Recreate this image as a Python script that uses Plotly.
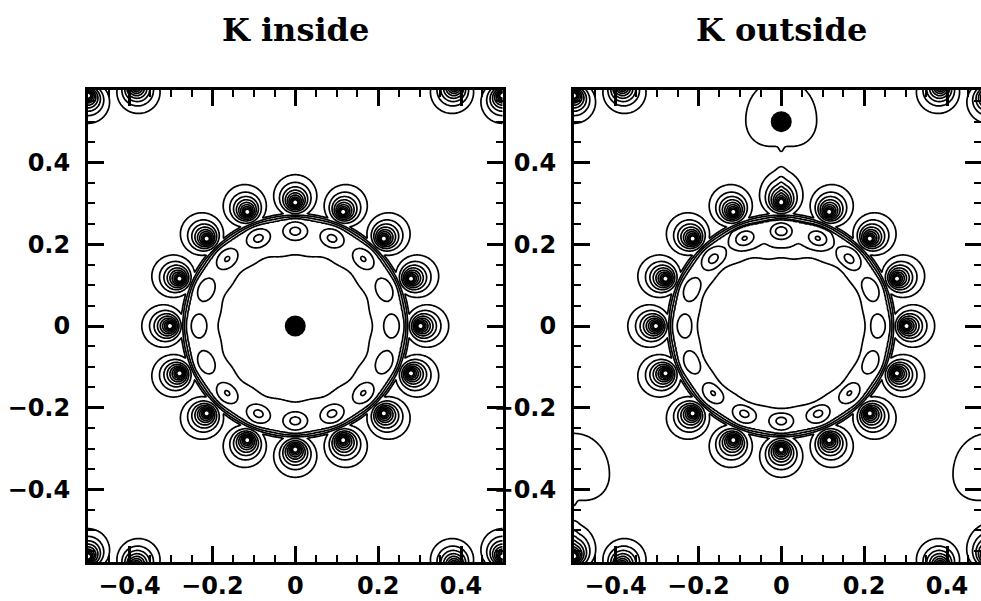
import numpy as np
import plotly.graph_objects as go

# ---------------- data ----------------
panel_titles = ["K inside", "K outside"]
x_tick_vals = [-0.4, -0.2, 0, 0.2, 0.4]
x_tick_text = ["\u22120.4", "\u22120.2", "0", "0.2", "0.4"]
y_tick_vals = [-0.4, -0.2, 0, 0.2, 0.4]
y_tick_text = ["\u22120.4", "\u22120.2", "0", "0.2", "0.4"]

# tube centres (hexagonal bundle, lattice constant 1)
tube_cx = [0.0, 1.0, -1.0, 0.5, -0.5, 0.5, -0.5]
tube_cy = [0.0, 0.0, 0.0, 0.866, 0.866, -0.866, -0.866]
tube_radius = 0.30
atom_angles_deg = [0.0, 22.5, 45.0, 67.5, 90.0, 112.5, 135.0, 157.5,
                   180.0, 202.5, 225.0, 247.5, 270.0, 292.5, 315.0, 337.5]

# K positions (left panel: centre of tube; right panel: outside + images)
k_inside_x = [0.0]
k_inside_y = [0.0]
k_outside_x = [0.0, 0.5, -0.5, 1.0, -1.0, 0.5, -0.5]
k_outside_y = [0.5, -0.366, -0.366, 0.5, 0.5, 1.366, 1.366]

# contour radii around an atom for levels 1..9
atom_level_radii = [0.052, 0.038, 0.030, 0.024, 0.019, 0.015, 0.0115, 0.0088, 0.0066]
# wall radii for levels 1..4 (outer wall of the tube)
wall_level_radii = [0.2755, 0.2712, 0.2668, 0.2608]
oval_radius = 0.232
inner_radius_left = 0.182
inner_radius_right = 0.200

level_start, level_end, level_step = 1, 9, 1

# ---------------- field model ----------------
X = np.linspace(-0.52, 0.52, 417)
Y = np.linspace(-0.60, 0.60, 481)
xx, yy = np.meshgrid(X, Y)

KAPPA = 0.35
_lr = np.log(np.array(atom_level_radii))
_lv = np.arange(1, len(atom_level_radii) + 1, dtype=float)
atom_lr = np.concatenate([[np.log(0.6)], _lr, [np.log(0.0005)]])[::-1]
atom_lv = np.concatenate([[1 - (np.log(0.6) - _lr[0]) / 0.33], _lv,
                          [9 + (_lr[-1] - np.log(0.0005)) / 0.28]])[::-1]

wall_r = np.array([0.20, 0.2575] + wall_level_radii[::-1] + [0.34])
wall_v = np.array([15.0, 6.0, 4.0, 3.0, 2.0, 1.0, 1 - (0.34 - 0.2755) / 0.0045])


def wrap(a):
    return (a + np.pi) % (2 * np.pi) - np.pi


def atom_field(ax, ay, cx, cy, tear=None):
    rx, ry = ax - cx, ay - cy
    rn = np.hypot(rx, ry)
    rhx, rhy = rx / rn, ry / rn
    qx, qy = xx - ax, yy - ay
    qr = qx * rhx + qy * rhy
    q2 = qx * qx + qy * qy
    k = KAPPA
    rho = (-k * qr + np.sqrt(k * k * qr * qr + (1 - k * k) * q2)) / (1 - k * k)
    if tear is not None:
        d = wrap(np.arctan2(qy, qx) - tear)
        rho = rho / (1 + 0.16 * np.exp(-(d / 0.7) ** 2) + 0.12 * np.exp(-(d / 0.15) ** 2))
    rho = np.maximum(rho, 6e-4)
    return np.interp(np.log(rho), atom_lr, atom_lv)


def panel_field(kx, ky, outside):
    fields = []
    r = np.hypot(xx, yy)
    th = np.arctan2(yy, xx)
    dtop = wrap(th - np.pi / 2)
    for cx, cy in zip(tube_cx, tube_cy):
        for a in atom_angles_deg:
            t = np.deg2rad(a)
            ax = cx + tube_radius * np.cos(t)
            ay = cy + tube_radius * np.sin(t)
            if abs(ax) > 0.64 or abs(ay) > 0.72:
                continue
            tear = None
            if outside:
                for px, py in zip(kx, ky):
                    if np.hypot(px - ax, py - ay) < 0.22:
                        tear = np.arctan2(py - ay, px - ax)
            fields.append(atom_field(ax, ay, cx, cy, tear))
    # central tube wall
    base_out = np.interp(r, wall_r, wall_v)
    wave = 0.35 * np.cos(16 * dtop) * np.clip((base_out - 2.5) / 1.5, 0, 1)
    h_out = base_out + wave
    if outside:
        plat = 4.4 + 0.6 * np.exp(-dtop ** 2 / (2 * 0.45 ** 2))
        r_in = inner_radius_right - 0.032 * np.exp(-dtop ** 2 / (2 * 0.4 ** 2)) \
            + 0.002 * np.cos(16 * dtop)
    else:
        plat = 4.4 + 0 * r
        r_in = inner_radius_left - 0.012 * np.exp(-dtop ** 2 / (2 * 0.3 ** 2)) \
            + 0.0018 * np.cos(16 * dtop)
    ov = 0 * r
    for a in atom_angles_deg:
        t = np.deg2rad(a)
        ox, oy = oval_radius * np.cos(t), oval_radius * np.sin(t)
        dx, dy = xx - ox, yy - oy
        dr = dx * np.cos(t) + dy * np.sin(t)
        dt = -dx * np.sin(t) + dy * np.cos(t)
        amp = 2.0 - 0.6 * np.cos(t) ** 2
        st = 0.019 + 0.003 * np.cos(t) ** 2
        if outside:
            amp = amp * (1 + 0.3 * np.exp(-wrap(t - np.pi / 2) ** 2 / (2 * 0.45 ** 2)))
        ov = ov + amp * np.exp(-(dt ** 2 / (2 * st ** 2) + dr ** 2 / (2 * 0.0145 ** 2)))
    s = 1 / (1 + np.exp(-(r - r_in) / 0.006))
    h_body = 3.4 + (plat - 3.4 + ov) * s
    fields.append(np.minimum(h_out, h_body))
    if outside:
        for px, py in zip(kx, ky):
            dist = [np.hypot(px - cx, py - cy) for cx, cy in zip(tube_cx, tube_cy)]
            i = int(np.argmin(dist))
            tip = np.arctan2(tube_cy[i] - py, tube_cx[i] - px)
            d = np.hypot(xx - px, yy - py)
            dl = wrap(np.arctan2(yy - py, xx - px) - tip)
            rk = 0.086 * (1 - 0.3 * np.exp(-(dl / 0.8) ** 2) + 0.15 * np.exp(-(dl / 0.1) ** 2)
                          + 0.2 * np.clip(-np.cos(dl), 0, 1) ** 2)
            fields.append(np.minimum(1.6, 1 + (rk - d) / 0.03))
    F = np.array(fields)
    tau = 0.07
    m = F.max(axis=0)
    H = m + tau * np.log(np.exp((F - m) / tau).sum(axis=0))
    return np.round(np.clip(H, -2, 12), 3)


Z_left = panel_field(k_inside_x, k_inside_y, False)
Z_right = panel_field(k_outside_x, k_outside_y, True)

# ---------------- figure ----------------
fig = go.Figure()
for Z, xa, ya in [(Z_left, "x", "y"), (Z_right, "x2", "y2")]:
    fig.add_trace(go.Contour(
        x=X, y=Y, z=Z, xaxis=xa, yaxis=ya,
        contours=dict(start=level_start, end=level_end, size=level_step, coloring="lines"),
        colorscale=[[0, "black"], [1, "black"]], showscale=False,
        line=dict(width=1.7, smoothing=0.8), hoverinfo="skip"))

fig.add_trace(go.Scatter(x=k_inside_x, y=k_inside_y, mode="markers", xaxis="x", yaxis="y",
                         marker=dict(size=21, color="black"), hoverinfo="skip", showlegend=False))
fig.add_trace(go.Scatter(x=k_outside_x[:1], y=k_outside_y[:1], mode="markers", xaxis="x2", yaxis="y2",
                         marker=dict(size=21, color="black"), hoverinfo="skip", showlegend=False))

W, Hh = 981, 601
tickfont = dict(family="DejaVu Sans", size=24, color="black", weight="bold")
common = dict(showline=True, linewidth=3, linecolor="black", mirror="ticks",
              ticks="inside", ticklen=16, tickwidth=2.5, tickcolor="black",
              showgrid=False, zeroline=False, tickfont=tickfont, automargin=False,
              minor=dict(dtick=0.05, tick0=0, ticks="inside", ticklen=7, tickwidth=2, tickcolor="black"))
ydom = [39 / Hh, 511 / Hh]
fig.update_layout(
    width=W, height=Hh, margin=dict(l=0, r=0, t=0, b=0, autoexpand=False),
    paper_bgcolor="white", plot_bgcolor="white", showlegend=False,
    xaxis=dict(domain=[88 / W, 502.5 / W], range=[-0.5, 0.5], tickmode="array",
               tickvals=x_tick_vals, ticktext=x_tick_text, anchor="y", ticklabelstandoff=0, **common),
    yaxis=dict(domain=ydom, range=[-0.5774, 0.5774], tickmode="array",
               tickvals=y_tick_vals, ticktext=y_tick_text, anchor="x", ticklabelstandoff=10, **common),
    xaxis2=dict(domain=[574 / W, 1.0], range=[-0.5, 0.482], tickmode="array",
                tickvals=x_tick_vals, ticktext=x_tick_text, anchor="y2", ticklabelstandoff=0, **common),
    yaxis2=dict(domain=ydom, range=[-0.5774, 0.5774], tickmode="array",
                tickvals=y_tick_vals, ticktext=y_tick_text, anchor="x2", ticklabelstandoff=10, **common),
)
for title, xr in zip(panel_titles, ["x", "x2"]):
    fig.add_annotation(text=title, x=0, xref=xr, y=1 - 30 / Hh, yref="paper",
                       showarrow=False, xanchor="center", yanchor="middle",
                       font=dict(family="DejaVu Serif", size=32, color="black", weight="bold"))

fig.write_html("out.html")
